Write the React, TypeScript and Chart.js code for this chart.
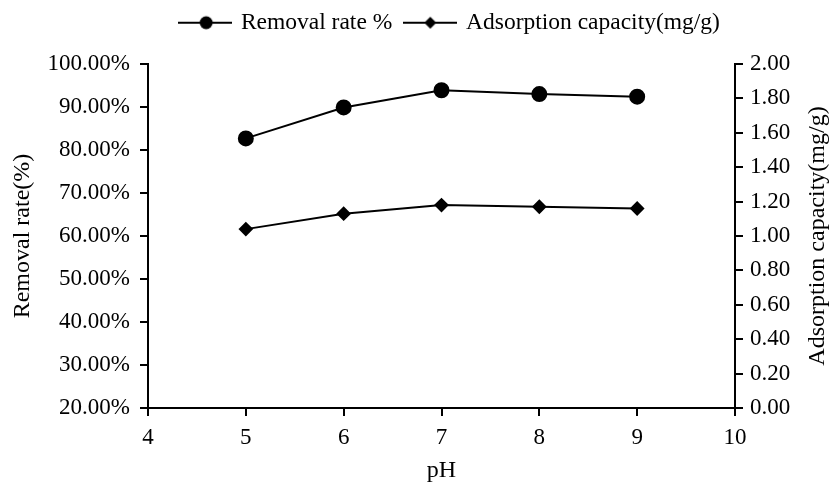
import React, { useEffect, useRef } from 'react';
import { Chart, registerables } from 'chart.js';

Chart.register(...registerables);

// ---- data ----
const phValues = [5, 6, 7, 8, 9];
const removalRate = [82.7, 89.9, 93.9, 93.0, 92.4];
const adsorptionCapacity = [1.04, 1.13, 1.18, 1.17, 1.16];
const seriesLabels = ['Removal rate %', 'Adsorption capacity(mg/g)'];
const xTitle = 'pH';
const yLeftTitle = 'Removal rate(%)';
const yRightTitle = 'Adsorption capacity(mg/g)';
const xRange = [4, 10];
const yLeftRange = [20, 100];
const yRightRange = [0, 2];

// ---- layout / style ----
const FONT = "'Liberation Serif', 'Times New Roman', serif";
const W = 829;
const H = 485;
const LEGEND_BAND = 64;
const LEGEND_DX = 36;
const LEGEND_DY = -3;
const TITLE_SIZE = 24;
const RIGHT_TITLE_INSET = 11;

function legendGlyph(kind: 'circle' | 'diamond'): HTMLCanvasElement {
  const c = document.createElement('canvas');
  c.width = 54;
  c.height = 16;
  const ctx = c.getContext('2d')!;
  ctx.strokeStyle = '#000';
  ctx.fillStyle = '#000';
  ctx.lineWidth = 2;
  ctx.beginPath();
  ctx.moveTo(0, 8);
  ctx.lineTo(54, 8);
  ctx.stroke();
  ctx.beginPath();
  if (kind === 'circle') {
    ctx.arc(28, 8, 6.5, 0, Math.PI * 2);
  } else {
    ctx.moveTo(27, 2);
    ctx.lineTo(33, 8);
    ctx.lineTo(27, 14);
    ctx.lineTo(21, 8);
    ctx.closePath();
  }
  ctx.fill();
  return c;
}

const legendPlacement = {
  id: 'legendPlacement',
  beforeLayout(chart: any) {
    const lg = chart.legend;
    if (lg && !lg.__fitPatched) {
      const orig = lg.fit.bind(lg);
      lg.fit = function () {
        orig();
        this.height = LEGEND_BAND;
      };
      lg.__fitPatched = true;
    }
  },
  afterLayout(chart: any) {
    const lg = chart.legend;
    if (lg) {
      lg.left += LEGEND_DX;
      lg.right += LEGEND_DX;
      lg.top += LEGEND_DY;
      lg.bottom += LEGEND_DY;
    }
  },
};

// right-hand axis title, reading bottom-to-top like the left one
const rightAxisTitle = {
  id: 'rightAxisTitle',
  afterDraw(chart: any) {
    const { ctx, chartArea } = chart;
    const scale = chart.scales.y1;
    ctx.save();
    ctx.font = `${TITLE_SIZE}px ${FONT}`;
    ctx.fillStyle = '#000';
    ctx.textAlign = 'center';
    ctx.textBaseline = 'middle';
    ctx.translate(scale.right - RIGHT_TITLE_INSET, (chartArea.top + chartArea.bottom) / 2);
    ctx.rotate(-Math.PI / 2);
    ctx.fillText(yRightTitle, 0, 0);
    ctx.restore();
  },
};

export default function App() {
  const ref = useRef<HTMLCanvasElement | null>(null);

  useEffect(() => {
    if (!ref.current) return;
    const glyphs = [legendGlyph('circle'), legendGlyph('diamond')];
    const tickFont = { family: FONT, size: 23 };
    const titleFont = { family: FONT, size: TITLE_SIZE };
    const gridOpts = { drawOnChartArea: false, drawTicks: true, tickLength: 8, color: '#000', lineWidth: 2 };
    const borderOpts = { display: true, color: '#000', width: 2 };

    const chart = new Chart(ref.current, {
      type: 'line',
      data: {
        datasets: [
          {
            label: seriesLabels[0],
            data: phValues.map((x, i) => ({ x, y: removalRate[i] })),
            yAxisID: 'y',
            borderColor: '#000',
            backgroundColor: '#000',
            borderWidth: 2,
            pointStyle: 'circle',
            pointRadius: 7,
            pointBackgroundColor: '#000',
            pointBorderColor: '#000',
            tension: 0,
          },
          {
            label: seriesLabels[1],
            data: phValues.map((x, i) => ({ x, y: adsorptionCapacity[i] })),
            yAxisID: 'y1',
            borderColor: '#000',
            backgroundColor: '#000',
            borderWidth: 2,
            pointStyle: 'rectRot',
            pointRadius: 6,
            pointBackgroundColor: '#000',
            pointBorderColor: '#000',
            tension: 0,
          },
        ],
      },
      options: {
        responsive: false,
        animation: false,
        layout: { padding: 0 },
        plugins: {
          tooltip: { enabled: false },
          legend: {
            display: true,
            position: 'top',
            align: 'center',
            labels: {
              usePointStyle: true,
              pointStyleWidth: 48,
              padding: 14,
              color: '#000',
              font: { family: FONT, size: 23.5 },
              generateLabels: (c: any) => {
                const items = (Chart as any).defaults.plugins.legend.labels.generateLabels(c);
                return items.map((it: any, i: number) => ({ ...it, pointStyle: glyphs[i] }));
              },
            },
          },
        },
        scales: {
          x: {
            type: 'linear',
            min: xRange[0],
            max: xRange[1],
            ticks: { stepSize: 1, color: '#000', font: tickFont, padding: 8 },
            grid: gridOpts,
            border: borderOpts,
            title: { display: true, text: xTitle, color: '#000', font: titleFont, padding: { top: 0, bottom: 0 } },
            afterFit: (s: any) => {
              s.height = 77;
            },
          },
          y: {
            type: 'linear',
            position: 'left',
            min: yLeftRange[0],
            max: yLeftRange[1],
            ticks: {
              stepSize: 10,
              color: '#000',
              font: tickFont,
              padding: 10,
              callback: (v: any) => Number(v).toFixed(2) + '%',
            },
            grid: gridOpts,
            border: borderOpts,
            title: { display: true, text: yLeftTitle, color: '#000', font: titleFont, padding: { top: 8, bottom: 0 } },
            afterFit: (s: any) => {
              s.width = 148;
            },
          },
          y1: {
            type: 'linear',
            position: 'right',
            min: yRightRange[0],
            max: yRightRange[1],
            ticks: {
              stepSize: 0.2,
              color: '#000',
              font: tickFont,
              padding: 7,
              callback: (v: any) => Number(v).toFixed(2),
            },
            grid: gridOpts,
            border: borderOpts,
            title: { display: false, text: yRightTitle },
            afterFit: (s: any) => {
              s.width = 94;
            },
          },
        },
      } as any,
      plugins: [legendPlacement, rightAxisTitle],
    });
    return () => chart.destroy();
  }, []);

  return (
    <div style={{ position: 'absolute', left: 0, top: 0, width: W, height: H, background: '#fff' }}>
      <canvas ref={ref} width={W} height={H} style={{ display: 'block' }} />
    </div>
  );
}
